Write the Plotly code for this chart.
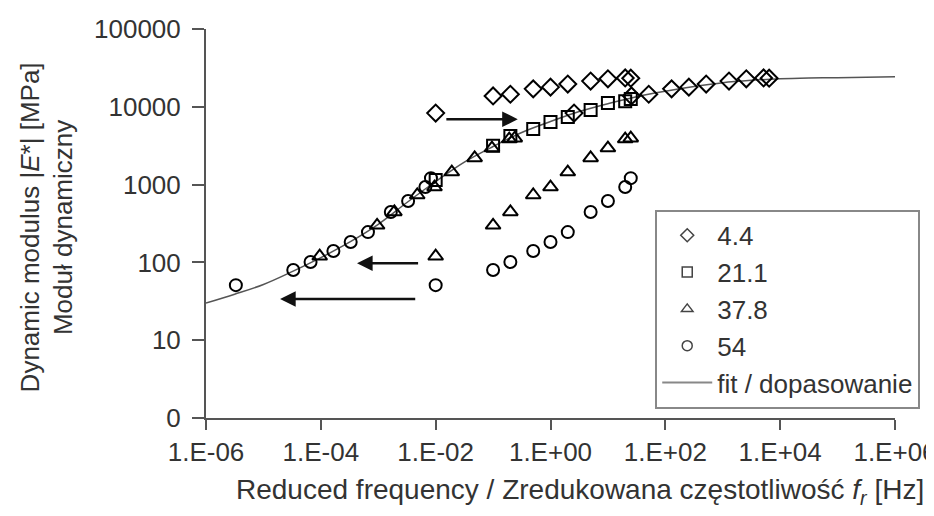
import plotly.graph_objects as go

# ---- data ----
freq_raw = [0.01, 0.1, 0.2, 0.5, 1, 2, 5, 10, 20, 25]
E_44 = [8300, 13800, 14500, 17000, 17900, 19600, 21400, 22900, 23500, 23300]
E_211 = [1150, 3150, 4200, 5200, 6400, 7400, 9100, 11200, 11800, 12600]
E_378 = [120, 300, 445, 735, 930, 1450, 2200, 2950, 3850, 3950]
E_54 = [51, 80, 101, 140, 183, 245, 445, 615, 930, 1210]
temps = ["4.4", "21.1", "37.8", "54"]
log_shift = [2.41, 0.0, -2.02, -3.48]   # log10 of horizontal shift per temperature

fit_freq = [1e-6, 3.16e-6, 1e-5, 3.16e-5, 1e-4, 3.16e-4, 1e-3, 3.16e-3, 1e-2, 3.16e-2,
            1e-1, 3.16e-1, 1, 3.16, 10, 31.6, 100, 316, 1e3, 3.16e3, 1e4, 3.16e4,
            1e5, 3.16e5, 1e6]
fit_E = [30, 39, 52, 76, 115, 182, 309, 589, 1096, 1950, 3090, 4680, 6460, 8710,
         10960, 13490, 15850, 18200, 20420, 21880, 22910, 23440, 23710, 23990, 24270]

x_tickvals = [1e-6, 1e-4, 1e-2, 1, 1e2, 1e4, 1e6]
x_ticktext = ["1.E-06", "1.E-04", "1.E-02", "1.E+00", "1.E+02", "1.E+04", "1.E+06"]
y_tickvals = [1, 10, 100, 1000, 10000, 100000]
y_ticktext = ["0", "10", "100", "1000", "10000", "100000"]

# arrows: (tail log f, tip log f, log E)
arrows = [(-1.84, -0.57, 3.84), (-2.28, -3.37, 1.99), (-2.33, -4.71, 1.53)]

symbols = ["diamond-open", "square-open", "triangle-up-open", "circle-open"]
sizes = [13, 12, 13, 12]
series = [E_44, E_211, E_378, E_54]

FONT = "Liberation Sans, Arial, sans-serif"
TXT = "#333333"
AX = "#555555"

fig = go.Figure()

fig.add_trace(go.Scatter(x=fit_freq, y=fit_E, mode="lines", line=dict(color="#555555", width=1.5, shape="spline"),
                         showlegend=False, hoverinfo="skip"))

for name, E, sym, sz, sh in zip(temps, series, symbols, sizes, log_shift):
    mk = dict(symbol=sym, size=sz, color="black", line=dict(width=2, color="black"))
    fig.add_trace(go.Scatter(x=freq_raw, y=E, mode="markers", marker=mk, showlegend=False))
    if sh != 0:
        fig.add_trace(go.Scatter(x=[f * 10 ** sh for f in freq_raw], y=E, mode="markers",
                                 marker=mk, showlegend=False))

# legend-only entries
for name, sym in zip(temps, symbols):
    fig.add_trace(go.Scatter(x=[None], y=[None], mode="markers", name=name,
                             marker=dict(symbol=sym, size=10, color="#444444", line=dict(width=1.5, color="#444444"))))
fig.add_trace(go.Scatter(x=[None], y=[None], mode="lines", name="fit / dopasowanie",
                         line=dict(color="#888888", width=2)))

annotations = []
for tail, tip, e in arrows:
    annotations.append(dict(x=tip, y=e, ax=tail, ay=e, xref="x", yref="y", axref="x", ayref="y",
                            showarrow=True, arrowhead=2, arrowsize=1.3, arrowwidth=2.4, arrowcolor="#111111", text=""))

annotations.append(dict(text="Reduced frequency / Zredukowana częstotliwość <i>f</i><sub><i>r</i></sub> [Hz]",
                        xref="paper", yref="paper", x=0.543, y=-0.19, xanchor="center", yanchor="middle",
                        showarrow=False, font=dict(family=FONT, size=28, color=TXT)))
annotations.append(dict(text="Dynamic modulus |<i>E</i>*| [MPa]<br>Moduł dynamiczny",
                        xref="paper", yref="paper", x=0, y=0.49, xshift=-159, xanchor="center", yanchor="middle",
                        textangle=-90, showarrow=False, font=dict(family=FONT, size=26, color=TXT)))

fig.update_layout(
    width=934, height=516,
    margin=dict(l=198, r=47, t=21, b=106),
    plot_bgcolor="white", paper_bgcolor="white",
    font=dict(family=FONT, size=26, color=TXT),
    xaxis=dict(type="log", range=[-6, 6], tickvals=x_tickvals, ticktext=x_ticktext, automargin=False,
               ticks="outside", ticklen=10, tickwidth=2, tickcolor=AX,
               showline=True, linecolor=AX, linewidth=2, showgrid=False, zeroline=False,
               tickfont=dict(family=FONT, size=26, color=TXT)),
    yaxis=dict(type="log", range=[0, 5], tickvals=y_tickvals, ticktext=y_ticktext, automargin=False,
               ticks="outside", ticklen=12, tickwidth=2, tickcolor=AX, ticklabelstandoff=6,
               showline=True, linecolor=AX, linewidth=2, showgrid=False, zeroline=False,
               tickfont=dict(family=FONT, size=26, color=TXT)),
    legend=dict(x=0.652, y=0.535, xanchor="left", yanchor="top", bordercolor="#888888", borderwidth=2,
                bgcolor="white", font=dict(family=FONT, size=26, color=TXT), tracegroupgap=0, itemwidth=50),
    annotations=annotations,
)

fig.write_html("out.html")
